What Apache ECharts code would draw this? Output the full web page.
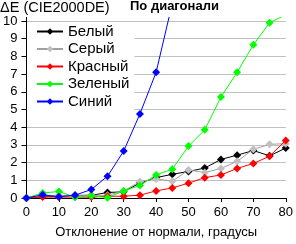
<!DOCTYPE html>
<html>
<head>
<meta charset="utf-8">
<script src="https://cdn.jsdelivr.net/npm/echarts@6/dist/echarts.min.js"></script>
<style>html,body{margin:0;padding:0;background:#fff}#c{width:296px;height:244px}</style>
</head>
<body>
<div id="c"></div>
<script>
const angles = [0,5,10,15,20,25,30,35,40,45,50,55,60,65,70,75,80];
const seriesNames = ['Белый','Серый','Красный','Зеленый','Синий'];
const white = [0,0.1,0.1,0.15,0.15,0.31,0.35,0.85,1.15,1.34,1.5,1.69,2.18,2.42,2.68,2.38,2.82];
const gray  = [0,0.15,0.15,0.15,0.15,0.15,0.4,0.93,1.08,0.95,1.58,1.44,1.67,2.07,2.75,3.03,3.07];
const red   = [0,0.05,0.05,0.05,0.05,0.1,0.1,0.16,0.4,0.57,0.84,1.15,1.3,1.67,1.95,2.36,3.25];
const green = [0,0.28,0.37,0.04,0.13,0.02,0.4,0.71,1.3,1.63,2.93,3.85,5.7,7.1,8.65,9.9,10.35];
const blue  = [0,0.18,0.07,0.16,0.48,1.23,2.65,4.75,7.1,11];
const yTicks = [0,1,2,3,4,5,6,7,8,9,10];
const xTicks = [0,10,20,30,40,50,60,70,80];
const titleText = 'По диагонали';
const yName = 'ΔE (CIE2000DE)';
const xName = 'Отклонение от нормали, градусы';

const lineColors = ['#000000','#a0a0a0','#ff0000','#00ff00','#0000ff'];
const markColors = ['#000000','#c0c0c0','#ff0000','#00ff00','#0000ff'];
const values = [white, gray, red, green, blue];
const font = 'Liberation Sans, Arial, sans-serif';

const chart = echarts.init(document.getElementById('c'), null, {renderer:'canvas'});
chart.setOption({
  animation: false,
  backgroundColor: '#fff',
  title: [
    {text: titleText, left: 130, top: 0, textStyle: {fontFamily: font, fontSize: 13, fontWeight: 'bold', color: '#000'}, padding: 0},
    {text: yName, left: 0, top: 0, textStyle: {fontFamily: font, fontSize: 14.5, fontWeight: 'normal', color: '#000'}, padding: 0}
  ],
  grid: {left: 25, right: 6, top: 17.4, bottom: 41, containLabel: false},
  xAxis: {
    type: 'value', min: 0, max: 80, interval: 10,
    name: xName, nameLocation: 'middle', nameGap: 28,
    nameTextStyle: {fontFamily: font, fontSize: 13, color: '#000'},
    axisLine: {show: true, lineStyle: {color: '#000', width: 1}},
    axisTick: {show: true, inside: false, length: 4, lineStyle: {color: '#000'}, customValues: xTicks},
    axisLabel: {fontFamily: font, fontSize: 13, color: '#000', margin: 8, customValues: xTicks},
    splitLine: {show: false}
  },
  yAxis: {
    type: 'value', min: 0, max: 10.2, interval: 1,
    axisLine: {show: true, lineStyle: {color: '#000', width: 1}},
    axisTick: {show: true, inside: false, length: 5, lineStyle: {color: '#000'}, customValues: yTicks},
    axisLabel: {fontFamily: font, fontSize: 13, color: '#000', margin: 9, customValues: yTicks},
    splitLine: {show: true, lineStyle: {color: '#c0c0c0', width: 1}}
  },
  legend: {
    orient: 'vertical', left: 27, top: 22,
    backgroundColor: '#fff',
    padding: [2, 5, 6, 9],
    itemWidth: 26, itemHeight: 8, itemGap: 2.5,
    textStyle: {fontFamily: font, fontSize: 15, color: '#000', lineHeight: 14},
    data: seriesNames
  },
  series: seriesNames.map((n, i) => ({
    name: n, type: 'line',
    data: values[i].map((v, k) => [angles[k], v]),
    symbol: 'diamond', symbolSize: 8, showSymbol: true,
    lineStyle: {color: lineColors[i], width: 1},
    itemStyle: {color: markColors[i]},
    clip: true, z: 2 + i
  }))
});
</script>
</body>
</html>
